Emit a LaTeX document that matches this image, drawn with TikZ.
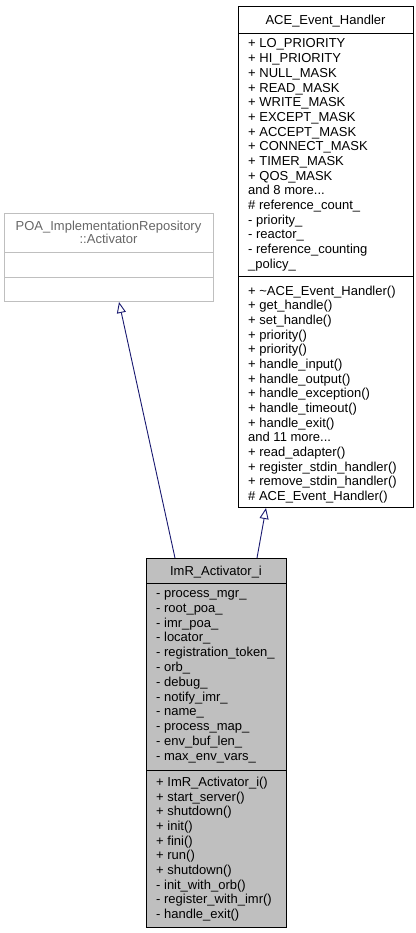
\documentclass[tikz,border=0pt]{standalone}
\usepackage{fontspec}
\setmainfont{Liberation Sans}
\usepackage{tikz}
\usetikzlibrary{arrows.meta}
\definecolor{cEdge}{RGB}{25,25,112}
\definecolor{cFill}{RGB}{191,191,191}
\definecolor{cGrey}{RGB}{102,102,102}
\newcommand{\moredots}{...}

\begin{document}
\begin{tikzpicture}[x=1pt,y=-1pt,
   cbox/.style={draw,line width=0.9pt,inner sep=0pt,anchor=north west},
   mline/.style={anchor=base west,inner sep=0pt,font=\fontsize{13}{14.7}\selectfont},
   tline/.style={anchor=base,inner sep=0pt,font=\fontsize{13}{14.7}\selectfont},
   inherit/.style={draw=cEdge,line width=0.9pt,-{Triangle[open,length=11pt,width=9pt]}}]
 \useasboundingbox (0,0) rectangle (415,933);
 % POA_ImplementationRepository::Activator (undocumented, grey)
 \node[cbox,draw=cFill,minimum width=209pt,minimum height=88pt] (poa) at (4,213) {};
 \draw[cFill,line width=0.9pt] (4,252) -- (213,252) (4,277) -- (213,277);
 \node[tline,text=cGrey] (poat1) at (108.5,230) {POA\_ImplementationRepository};
 \node[tline,text=cGrey] (poat2) at (108.5,243.5) {::Activator};
 % ACE_Event_Handler
 \node[cbox,fill=white,minimum width=175pt,minimum height=501pt] (ace) at (238,6) {};
 \draw[line width=0.9pt] (238,33) -- (413,33) (238,276) -- (413,276);
 \node[tline] (acet) at (325.5,24.5) {ACE\_Event\_Handler};
 \foreach \t [count=\k from 0] in {+ LO\_PRIORITY,+ HI\_PRIORITY,+ NULL\_MASK,+ READ\_MASK,
     + WRITE\_MASK,+ EXCEPT\_MASK,+ ACCEPT\_MASK,+ CONNECT\_MASK,+ TIMER\_MASK,+ QOS\_MASK,
     and 8 more\moredots,\# reference\_count\_,- priority\_,- reactor\_,- reference\_counting,\_policy\_}
   \node[mline] (acea\k) at (248,{48+14.67*\k}) {\t};
 \foreach \t [count=\k from 0] in {+ \textasciitilde ACE\_Event\_Handler(),+ get\_handle(),
     + set\_handle(),+ priority(),+ priority(),+ handle\_input(),+ handle\_output(),
     + handle\_exception(),+ handle\_timeout(),+ handle\_exit(),and 11 more\moredots,
     + read\_adapter(),+ register\_stdin\_handler(),+ remove\_stdin\_handler(),
     \# ACE\_Event\_Handler()}
   \node[mline] (acem\k) at (248,{295+14.67*\k}) {\t};
 % ImR_Activator_i
 \node[cbox,fill=cFill,minimum width=140pt,minimum height=369pt] (imr) at (146,558) {};
 \draw[line width=0.9pt] (146,583) -- (286,583) (146,770) -- (286,770);
 \node[tline] (imrt) at (216,575) {ImR\_Activator\_i};
 \foreach \t [count=\k from 0] in {- process\_mgr\_,- root\_poa\_,- imr\_poa\_,- locator\_,
     - registration\_token\_,- orb\_,- debug\_,- notify\_imr\_,- name\_,- process\_map\_,
     - env\_buf\_len\_,- max\_env\_vars\_}
   \node[mline] (imra\k) at (156,{597.5+14.8*\k}) {\t};
 \foreach \t [count=\k from 0] in {+ ImR\_Activator\_i(),+ start\_server(),+ shutdown(),
     + init(),+ fini(),+ run(),+ shutdown(),- init\_with\_orb(),- register\_with\_imr(),
     - handle\_exit()}
   \node[mline] (imrm\k) at (156,{786.5+14.67*\k}) {\t};
 % inheritance
 \coordinate (poaB) at (119,302);
 \coordinate (aceB) at (266,508);
 \coordinate (imrL) at (175,558);
 \coordinate (imrR) at (257,558);
 \draw[inherit] (imrL) -- (poaB);
 \draw[inherit] (imrR) -- (aceB);
\end{tikzpicture}
\end{document}
